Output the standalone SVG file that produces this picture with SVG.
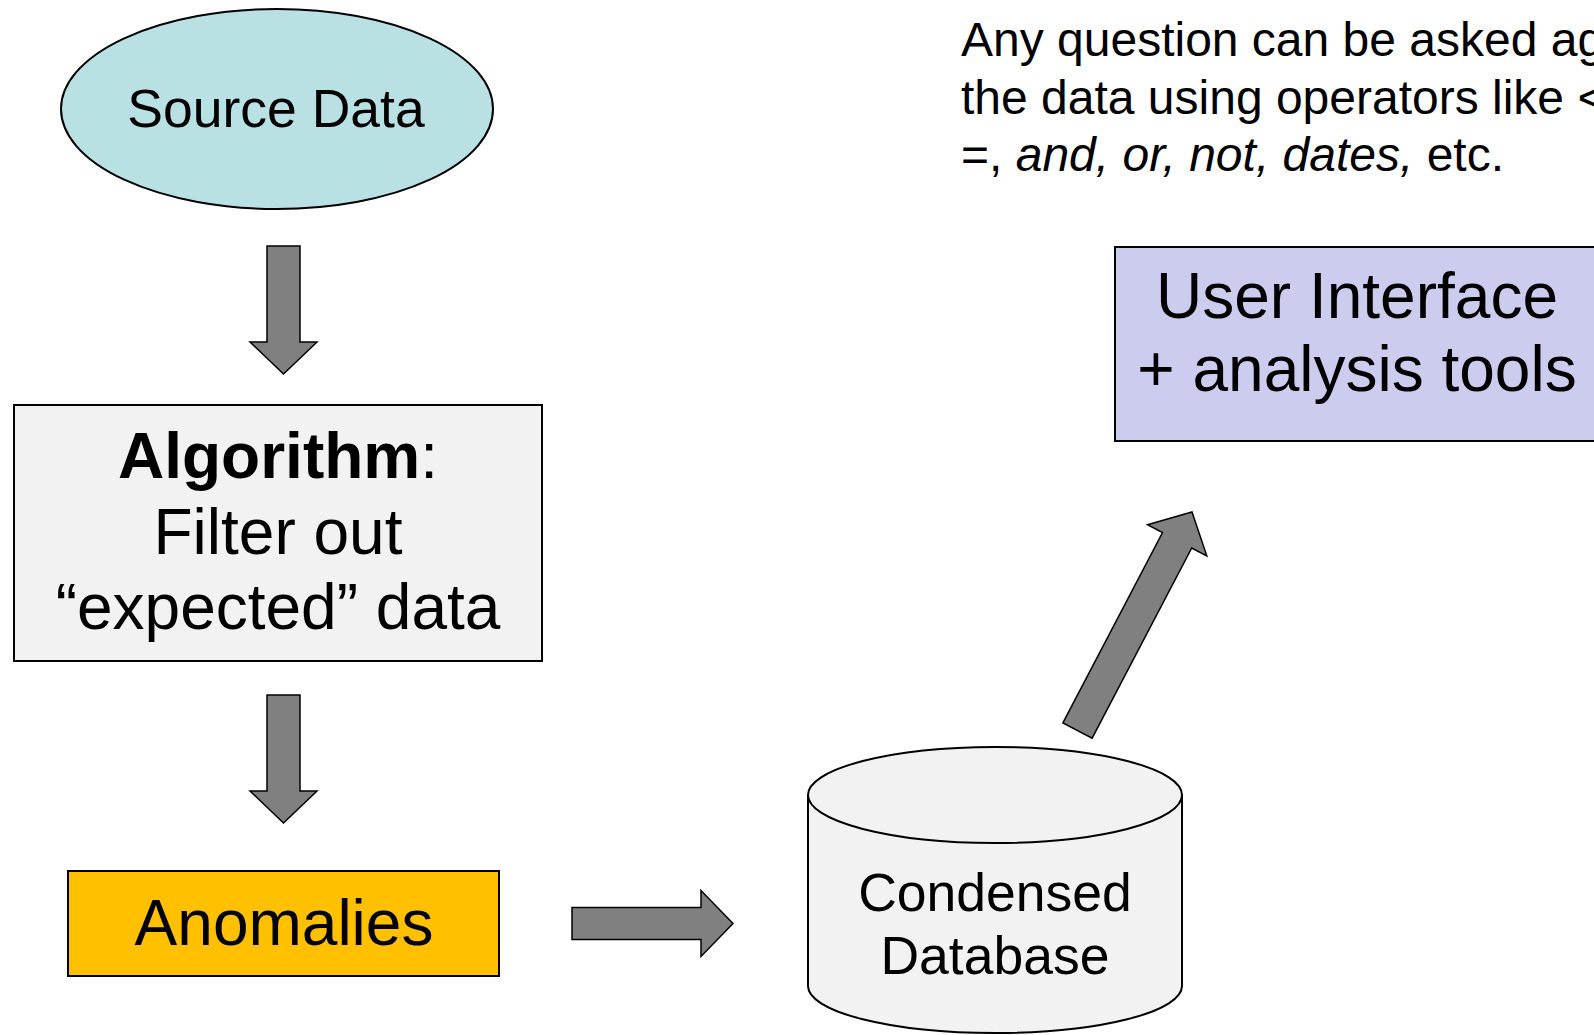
<svg xmlns="http://www.w3.org/2000/svg" width="1594" height="1035" viewBox="0 0 1594 1035">
  <style>
    text { font-family: "Liberation Sans", Arial, sans-serif; fill: #000; }
    .node { stroke: #000; stroke-width: 2; }
    .arrow { fill: #808080; stroke: #000; stroke-width: 1.5; stroke-linejoin: miter; }
    .big { font-size: 64px; text-anchor: middle; }
    .mid { font-size: 53.5px; text-anchor: middle; }
    .note { font-size: 48px; }
  </style>
  <rect width="1594" height="1035" fill="#fff"/>

  <!-- note text -->
  <g id="note">
    <text class="note" x="961" y="56">Any question can be asked ag</text>
    <text class="note" x="961" y="113.5">the data using operators like &lt;</text>
    <text class="note" x="961" y="171">=, <tspan font-style="italic">and, or, not, dates,</tspan> etc.</text>
  </g>

  <!-- source -->
  <g id="source-data">
    <ellipse class="node" cx="277" cy="109" rx="216" ry="100" fill="#B9E0E3"/>
    <text class="mid" x="276" y="127">Source Data</text>
  </g>

  <!-- filter step -->
  <g id="algorithm">
    <rect class="node" x="14" y="405" width="528" height="256" fill="#F2F2F2"/>
    <text class="big" x="278" y="478"><tspan font-weight="bold">Algorithm</tspan>:</text>
    <text class="big" x="278" y="554">Filter out</text>
    <text class="big" x="278" y="629">“expected” data</text>
  </g>

  <!-- output of the filter -->
  <g id="anomalies">
    <rect class="node" x="68" y="871" width="431" height="105" fill="#FFC000"/>
    <text class="big" x="284" y="945">Anomalies</text>
  </g>

  <!-- storage -->
  <g id="condensed-database">
    <path class="node" d="M808,795 L808,986 A187,47 0 0 0 1182,986 L1182,795 Z" fill="#F2F2F2"/>
    <ellipse class="node" cx="995" cy="795" rx="187" ry="48" fill="#F2F2F2"/>
    <text class="mid" x="995" y="911">Condensed</text>
    <text class="mid" x="995" y="974">Database</text>
  </g>

  <!-- front end -->
  <g id="user-interface">
    <rect class="node" x="1115" y="247" width="490" height="194" fill="#CCCCEE"/>
    <text class="big" x="1357" y="318">User Interface</text>
    <text class="big" x="1357" y="391">+ analysis tools</text>
  </g>

  <!-- block arrows between the stages -->
  <g id="connectors">
    <polygon class="arrow" points="267,246 300,246 300,342 317,342 283.5,374 250,342 267,342"/>
    <polygon class="arrow" points="267,695 300,695 300,791 317,791 283.5,823 250,791 267,791"/>
    <polygon class="arrow" points="572,907.5 701,907.5 701,890.5 733,923.5 701,956.5 701,939.5 572,939.5"/>
    <polygon class="arrow" transform="translate(1077.5,730.5) rotate(-62.35)"
             points="0,-16.5 214.7,-16.5 214.7,-33.5 246.7,0 214.7,33.5 214.7,16.5 0,16.5"/>
  </g>
</svg>
